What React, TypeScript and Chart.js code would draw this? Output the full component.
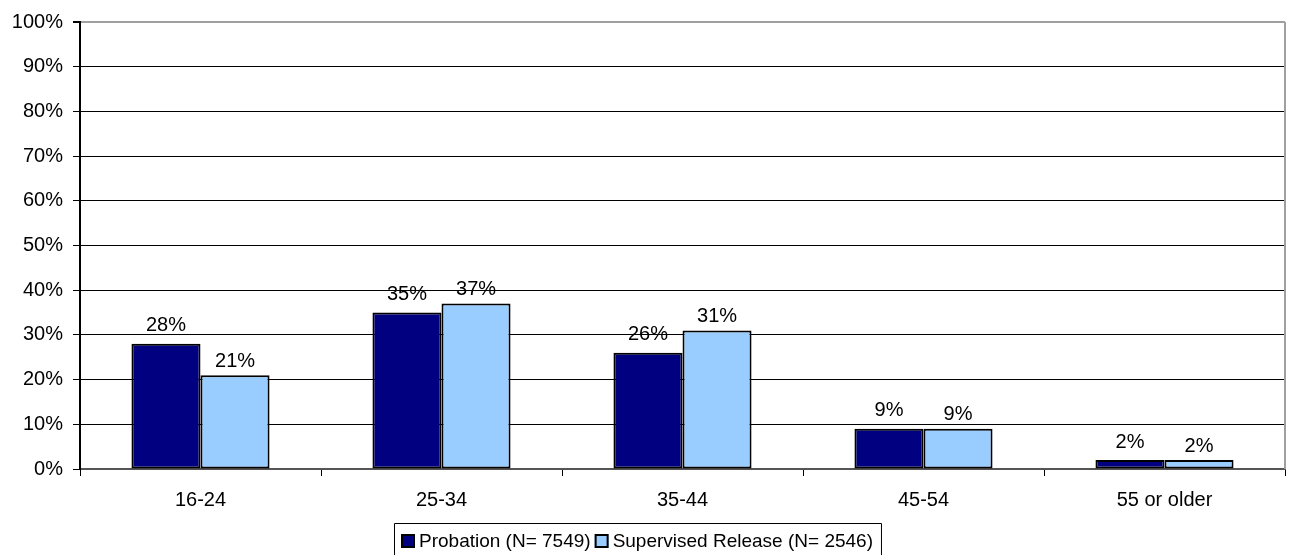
import React, { useEffect, useRef } from "react";
import { Chart, registerables } from "chart.js";

Chart.register(...registerables);

const categories = ["16-24", "25-34", "35-44", "45-54", "55 or older"];
const probation = [28, 35, 26, 9, 2];
const supervised = [21, 37, 31, 9, 2];
const seriesLabels = ["Probation (N= 7549)", "Supervised Release (N= 2546)"];
const yTicks = [0, 10, 20, 30, 40, 50, 60, 70, 80, 90, 100];

const FONT = '"Liberation Sans", Arial, sans-serif';

const borderPlugin = {
  id: "plotBorder",
  afterDraw(chart: any) {
    const { ctx, chartArea } = chart;
    ctx.save();
    ctx.strokeStyle = "#a0a0a0";
    ctx.lineWidth = 2;
    ctx.beginPath();
    ctx.moveTo(chartArea.right, chartArea.top);
    ctx.lineTo(chartArea.right, chartArea.bottom);
    ctx.stroke();
    ctx.restore();
  },
};

const labelPlugin = {
  id: "valueLabels",
  afterDatasetsDraw(chart: any) {
    const { ctx } = chart;
    const offsets = [18, 14];
    ctx.save();
    ctx.font = `20px ${FONT}`;
    ctx.fillStyle = "#000";
    ctx.textAlign = "center";
    ctx.textBaseline = "middle";
    chart.data.datasets.forEach((ds: any, di: number) => {
      const meta = chart.getDatasetMeta(di);
      meta.data.forEach((el: any, i: number) => {
        ctx.fillText(ds.data[i] + "%", el.x, el.y - offsets[di]);
      });
    });
    ctx.restore();
  },
};

const legendPlugin = {
  id: "boxLegend",
  afterDraw(chart: any) {
    const { ctx } = chart;
    ctx.save();
    ctx.font = `19px ${FONT}`;
    ctx.textBaseline = "middle";
    ctx.textAlign = "left";
    const left = 394;
    const top = 523;
    const cy = 541;
    const ds = chart.data.datasets;
    let x = left + 7;
    const widths = ds.map((d: any) => ctx.measureText(d.label).width);
    ds.forEach((d: any, i: number) => {
      ctx.fillStyle = d.backgroundColor;
      ctx.fillRect(x, cy - 7, 14, 14);
      ctx.strokeStyle = "#000";
      ctx.lineWidth = 2;
      ctx.strokeRect(x + 1, cy - 6, 12, 12);
      ctx.fillStyle = "#000";
      ctx.fillText(d.label, x + 18, cy + 1);
      x += 18 + widths[i] + 4;
    });
    const right = x + 4;
    ctx.strokeStyle = "#000";
    ctx.lineWidth = 1;
    ctx.beginPath();
    ctx.moveTo(left + 0.5, 560);
    ctx.lineTo(left + 0.5, top + 0.5);
    ctx.lineTo(right + 0.5, top + 0.5);
    ctx.lineTo(right + 0.5, 560);
    ctx.stroke();
    ctx.restore();
  },
};

export default function App() {
  const ref = useRef<HTMLCanvasElement | null>(null);
  useEffect(() => {
    if (!ref.current) return;
    const chart = new Chart(ref.current, {
      type: "bar",
      data: {
        labels: categories,
        datasets: [
          {
            label: seriesLabels[0],
            data: probation,
            backgroundColor: "#000080",
            borderColor: "#000",
            borderWidth: 2,
            borderSkipped: false,
            categoryPercentage: 0.573,
            barPercentage: 1,
          },
          {
            label: seriesLabels[1],
            data: supervised,
            backgroundColor: "#99ccff",
            borderColor: "#000",
            borderWidth: 2,
            borderSkipped: false,
            categoryPercentage: 0.573,
            barPercentage: 1,
          },
        ] as any,
      },
      options: {
        responsive: true,
        maintainAspectRatio: false,
        animation: false,
        layout: { padding: { top: 22, right: 6, left: 0, bottom: 46 } },
        plugins: {
          legend: { display: false },
          tooltip: { enabled: false },
        },
        scales: {
          x: {
            grid: {
              offset: true,
              drawOnChartArea: false,
              drawTicks: true,
              tickLength: 7,
              tickColor: "#000",
            },
            border: { color: "#555", width: 2 },
            ticks: {
              color: "#000",
              font: { family: FONT, size: 20 },
              padding: 12,
              maxRotation: 0,
            },
            afterFit(scale: any) {
              scale.height = 40;
            },
          },
          y: {
            min: 0,
            max: 100,
            afterBuildTicks(scale: any) {
              scale.ticks = yTicks.map((v) => ({ value: v }));
            },
            grid: {
              color: (c: any) =>
                c.tick && c.tick.value === 100 ? "#a0a0a0" : "#000",
              lineWidth: (c: any) => (c.tick && c.tick.value === 100 ? 2 : 1),
              tickLength: 7,
              tickColor: "#000",
            },
            border: { color: "#000", width: 2 },
            ticks: {
              color: "#000",
              font: { family: FONT, size: 20 },
              padding: 10,
              callback: (v: any) => v + "%",
            },
            afterFit(scale: any) {
              scale.width = 80;
            },
          },
        },
      },
      plugins: [borderPlugin, labelPlugin, legendPlugin],
    });
    return () => chart.destroy();
  }, []);
  return (
    <div style={{ position: "fixed", left: 0, top: 0, width: 1291, height: 555, background: "#fff" }}>
      <canvas ref={ref} />
    </div>
  );
}
